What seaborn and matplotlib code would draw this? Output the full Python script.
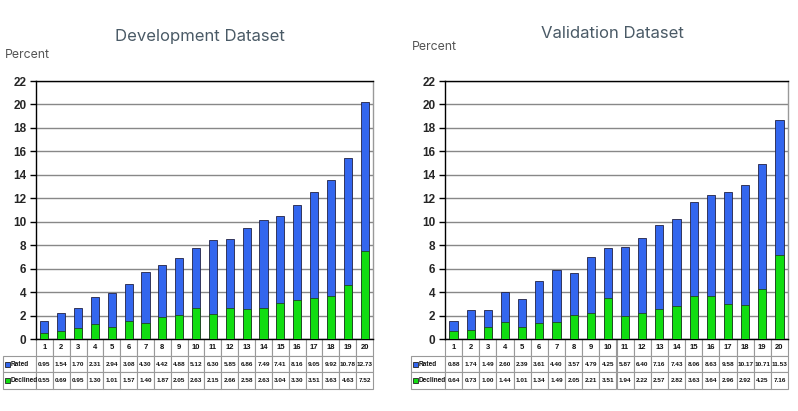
import matplotlib
matplotlib.use("Agg")
import matplotlib.pyplot as plt
import seaborn as sns
import pandas as pd
from matplotlib.patches import Rectangle

categories = [str(i) for i in range(1, 21)]
dev_rated = [0.95, 1.54, 1.70, 2.31, 2.94, 3.08, 4.30, 4.42, 4.88, 5.12,
             6.30, 5.85, 6.86, 7.49, 7.41, 8.16, 9.05, 9.92, 10.78, 12.73]
dev_declined = [0.55, 0.69, 0.95, 1.30, 1.01, 1.57, 1.40, 1.87, 2.05, 2.63,
                2.15, 2.66, 2.58, 2.63, 3.04, 3.30, 3.51, 3.63, 4.63, 7.52]
val_rated = [0.88, 1.74, 1.49, 2.60, 2.39, 3.61, 4.40, 3.57, 4.79, 4.25,
             5.87, 6.40, 7.16, 7.43, 8.06, 8.63, 9.58, 10.17, 10.71, 11.53]
val_declined = [0.64, 0.73, 1.00, 1.44, 1.01, 1.34, 1.49, 2.05, 2.21, 3.51,
                1.94, 2.22, 2.57, 2.82, 3.63, 3.64, 2.96, 2.92, 4.25, 7.16]
series_names = ["Rated", "Declined"]
yticks = list(range(0, 23, 2))

BLUE = "#3366EE"
GREEN = "#11DD11"

sns.set_theme(style="white")
plt.rcParams['font.family'] = ['Liberation Sans', 'DejaVu Sans']

W, H = 798, 411
fig = plt.figure(figsize=(W / 100, H / 100), dpi=100)


def panel(x0, x1, tleft, title, title_xy, pct_xy, rated, declined):
    ytop, ybot = 81, 339
    ax = fig.add_axes([x0 / W, (H - ybot) / H, (x1 - x0) / W, (ybot - ytop) / H])
    df = pd.DataFrame({"cat": categories,
                       "total": [r + d for r, d in zip(rated, declined)],
                       "declined": declined})
    sns.barplot(data=df, x="cat", y="total", color=BLUE, width=0.48,
                edgecolor="#222244", linewidth=0.6, saturation=1, ax=ax, zorder=3)
    sns.barplot(data=df, x="cat", y="declined", color=GREEN, width=0.48,
                edgecolor="#224422", linewidth=0.6, saturation=1, ax=ax, zorder=3)
    ax.set_xlim(-0.5, len(categories) - 0.5)
    ax.set_ylim(0, 22)
    ax.set_yticks(yticks)
    ax.set_yticklabels([str(t) for t in yticks], fontsize=8.5, fontweight="bold")
    ax.set_xticks([])
    ax.set_xlabel("")
    ax.set_ylabel("")
    ax.yaxis.grid(True, color="#888888", linewidth=1.0, zorder=0)
    ax.set_axisbelow(True)
    for s in ["left", "bottom", "top"]:
        ax.spines[s].set_color("black")
        ax.spines[s].set_linewidth(1.0)
    ax.spines["right"].set_color("#999999")
    ax.spines["right"].set_linewidth(1.0)
    ax.tick_params(axis="y", length=4, width=1, color="black", pad=3, left=True)

    # table
    axw = x1 - x0
    axh = ybot - ytop
    rlw = x0 - tleft
    total_w = axw + rlw
    th = 50
    cell_text = [[""] + [f"{v:.2f}" for v in rated],
                 [""] + [f"{v:.2f}" for v in declined]]
    colw = [rlw / total_w] + [axw / len(categories) / total_w] * len(categories)
    tbl = ax.table(cellText=cell_text, colLabels=[""] + categories,
                   colWidths=colw, cellLoc="center", colLoc="center",
                   bbox=[-rlw / axw, -th / axh, total_w / axw, th / axh])
    tbl.auto_set_font_size(False)
    for (r, c), cell in tbl.get_celld().items():
        cell.set_edgecolor("#999999")
        cell.set_linewidth(0.8)
        cell.get_text().set_fontsize(4.6 if r > 0 else 5.5)
        cell.get_text().set_fontweight("bold")
        cell.get_text().set_color("#111111")
        if c == 0 and r == 0:
            cell.set_visible(False)
    # row labels with legend squares
    rowh = th / 3
    for i, (col, name) in enumerate(zip([BLUE, GREEN], series_names)):
        yc = -(rowh * (1.5 + i)) / axh
        sq = 5
        ax.add_patch(Rectangle((-(rlw - 2) / axw, yc - sq / 2 / axh), sq / axw, sq / axh,
                               transform=ax.transAxes, clip_on=False, zorder=10,
                               facecolor=col, edgecolor="#222222", linewidth=0.6))
        ax.text(-(rlw - 8) / axw, yc, name, transform=ax.transAxes, ha="left",
                va="center", fontsize=4.7, fontweight="bold", color="#111111",
                clip_on=False, zorder=10)

    fig.text(title_xy[0] / W, 1 - title_xy[1] / H, title, ha="center", va="center",
             fontsize=12, color="#4a5a66", family=["Inter", "DejaVu Sans"])
    fig.text(pct_xy[0] / W, 1 - pct_xy[1] / H, "Percent", ha="left", va="center",
             fontsize=8.8, color="#555555", family=["Inter", "DejaVu Sans"])
    return ax


panel(36, 373, 3, "Development Dataset", (200, 37), (5, 55), dev_rated, dev_declined)
panel(445, 788, 411, "Validation Dataset", (612, 33), (412, 47), val_rated, val_declined)

fig.savefig("out.png", dpi=100)
